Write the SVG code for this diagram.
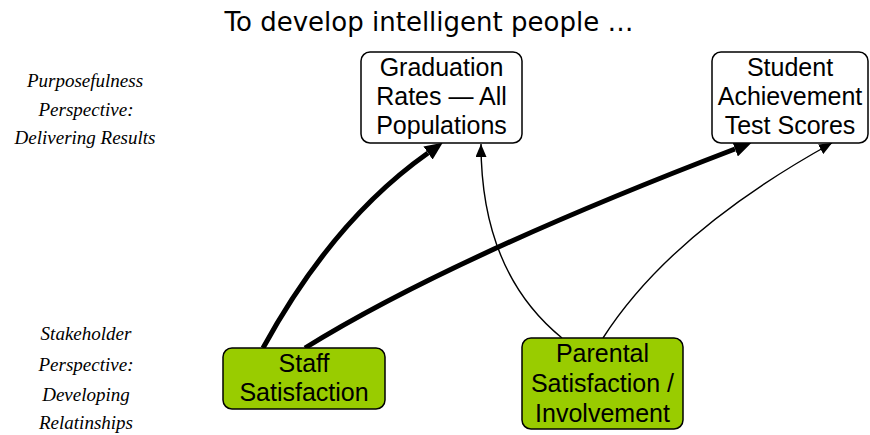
<svg xmlns="http://www.w3.org/2000/svg" width="870" height="435" viewBox="0 0 870 435">
<style>
.box{stroke:#000;stroke-width:1.5}
.out{fill:#fff}
.grn{fill:#99CC00}
.t{font-family:"Liberation Sans",Arial,sans-serif;font-size:25px;fill:#000;text-anchor:middle}
.side{font-family:"Liberation Serif","Times New Roman",serif;font-style:italic;font-size:19px;fill:#000;text-anchor:middle}
.title{font-family:"DejaVu Sans",Verdana,sans-serif;font-size:26px;fill:#000;text-anchor:middle}
.thick{fill:none;stroke:#000;stroke-width:5}
.thin{fill:none;stroke:#000;stroke-width:1.4}
</style>
<defs>
<marker id="headBig" markerUnits="userSpaceOnUse" markerWidth="18" markerHeight="16" viewBox="0 0 18 16" refX="0" refY="8" orient="auto">
<path d="M0,0 L18,8 L0,16 z" fill="#000"/>
</marker>
<marker id="headSmall" markerUnits="userSpaceOnUse" markerWidth="13" markerHeight="11" viewBox="0 0 13 11" refX="13" refY="5.5" orient="auto">
<path d="M0,0 L13,5.5 L0,11 z" fill="#000"/>
</marker>
</defs>
<rect width="870" height="435" fill="#fff"/>
<text class="title" x="429" y="31">To develop intelligent people …</text>
<g id="label-purpose">
<text class="side" x="85" y="87">Purposefulness</text>
<text class="side" x="86" y="116">Perspective:</text>
<text class="side" x="85" y="144">Delivering Results</text>
</g>
<g id="label-stakeholder">
<text class="side" x="86" y="340">Stakeholder</text>
<text class="side" x="86" y="371">Perspective:</text>
<text class="side" x="86" y="401">Developing</text>
<text class="side" x="86" y="429">Relatinships</text>
</g>
<g id="connectors">
<path class="thick" d="M263,348 Q333,220 428,153" marker-end="url(#headBig)"/>
<path class="thick" d="M305,348 Q450,258 735,149" marker-end="url(#headBig)"/>
<path class="thin" d="M562,338 Q481,272 481,144" marker-end="url(#headSmall)"/>
<path class="thin" d="M603,338 Q671,232 832,143" marker-end="url(#headSmall)"/>
</g>
<g id="node-graduation">
<rect class="box out" x="361" y="52" width="161" height="91" rx="9"/>
<text class="t" x="441.5" y="76">Graduation</text>
<text class="t" x="441.5" y="105">Rates — All</text>
<text class="t" x="441.5" y="134">Populations</text>
</g>
<g id="node-student">
<rect class="box out" x="712" y="52" width="156" height="91" rx="9"/>
<text class="t" x="790" y="76">Student</text>
<text class="t" x="790" y="105">Achievement</text>
<text class="t" x="790" y="134">Test Scores</text>
</g>
<g id="node-staff">
<rect class="box grn" x="223" y="348" width="162" height="61" rx="9"/>
<text class="t" x="304" y="372">Staff</text>
<text class="t" x="304" y="401">Satisfaction</text>
</g>
<g id="node-parental">
<rect class="box grn" x="522" y="338" width="161" height="91" rx="9"/>
<text class="t" x="602.5" y="362">Parental</text>
<text class="t" x="602.5" y="392">Satisfaction /</text>
<text class="t" x="602.5" y="422">Involvement</text>
</g>
</svg>
